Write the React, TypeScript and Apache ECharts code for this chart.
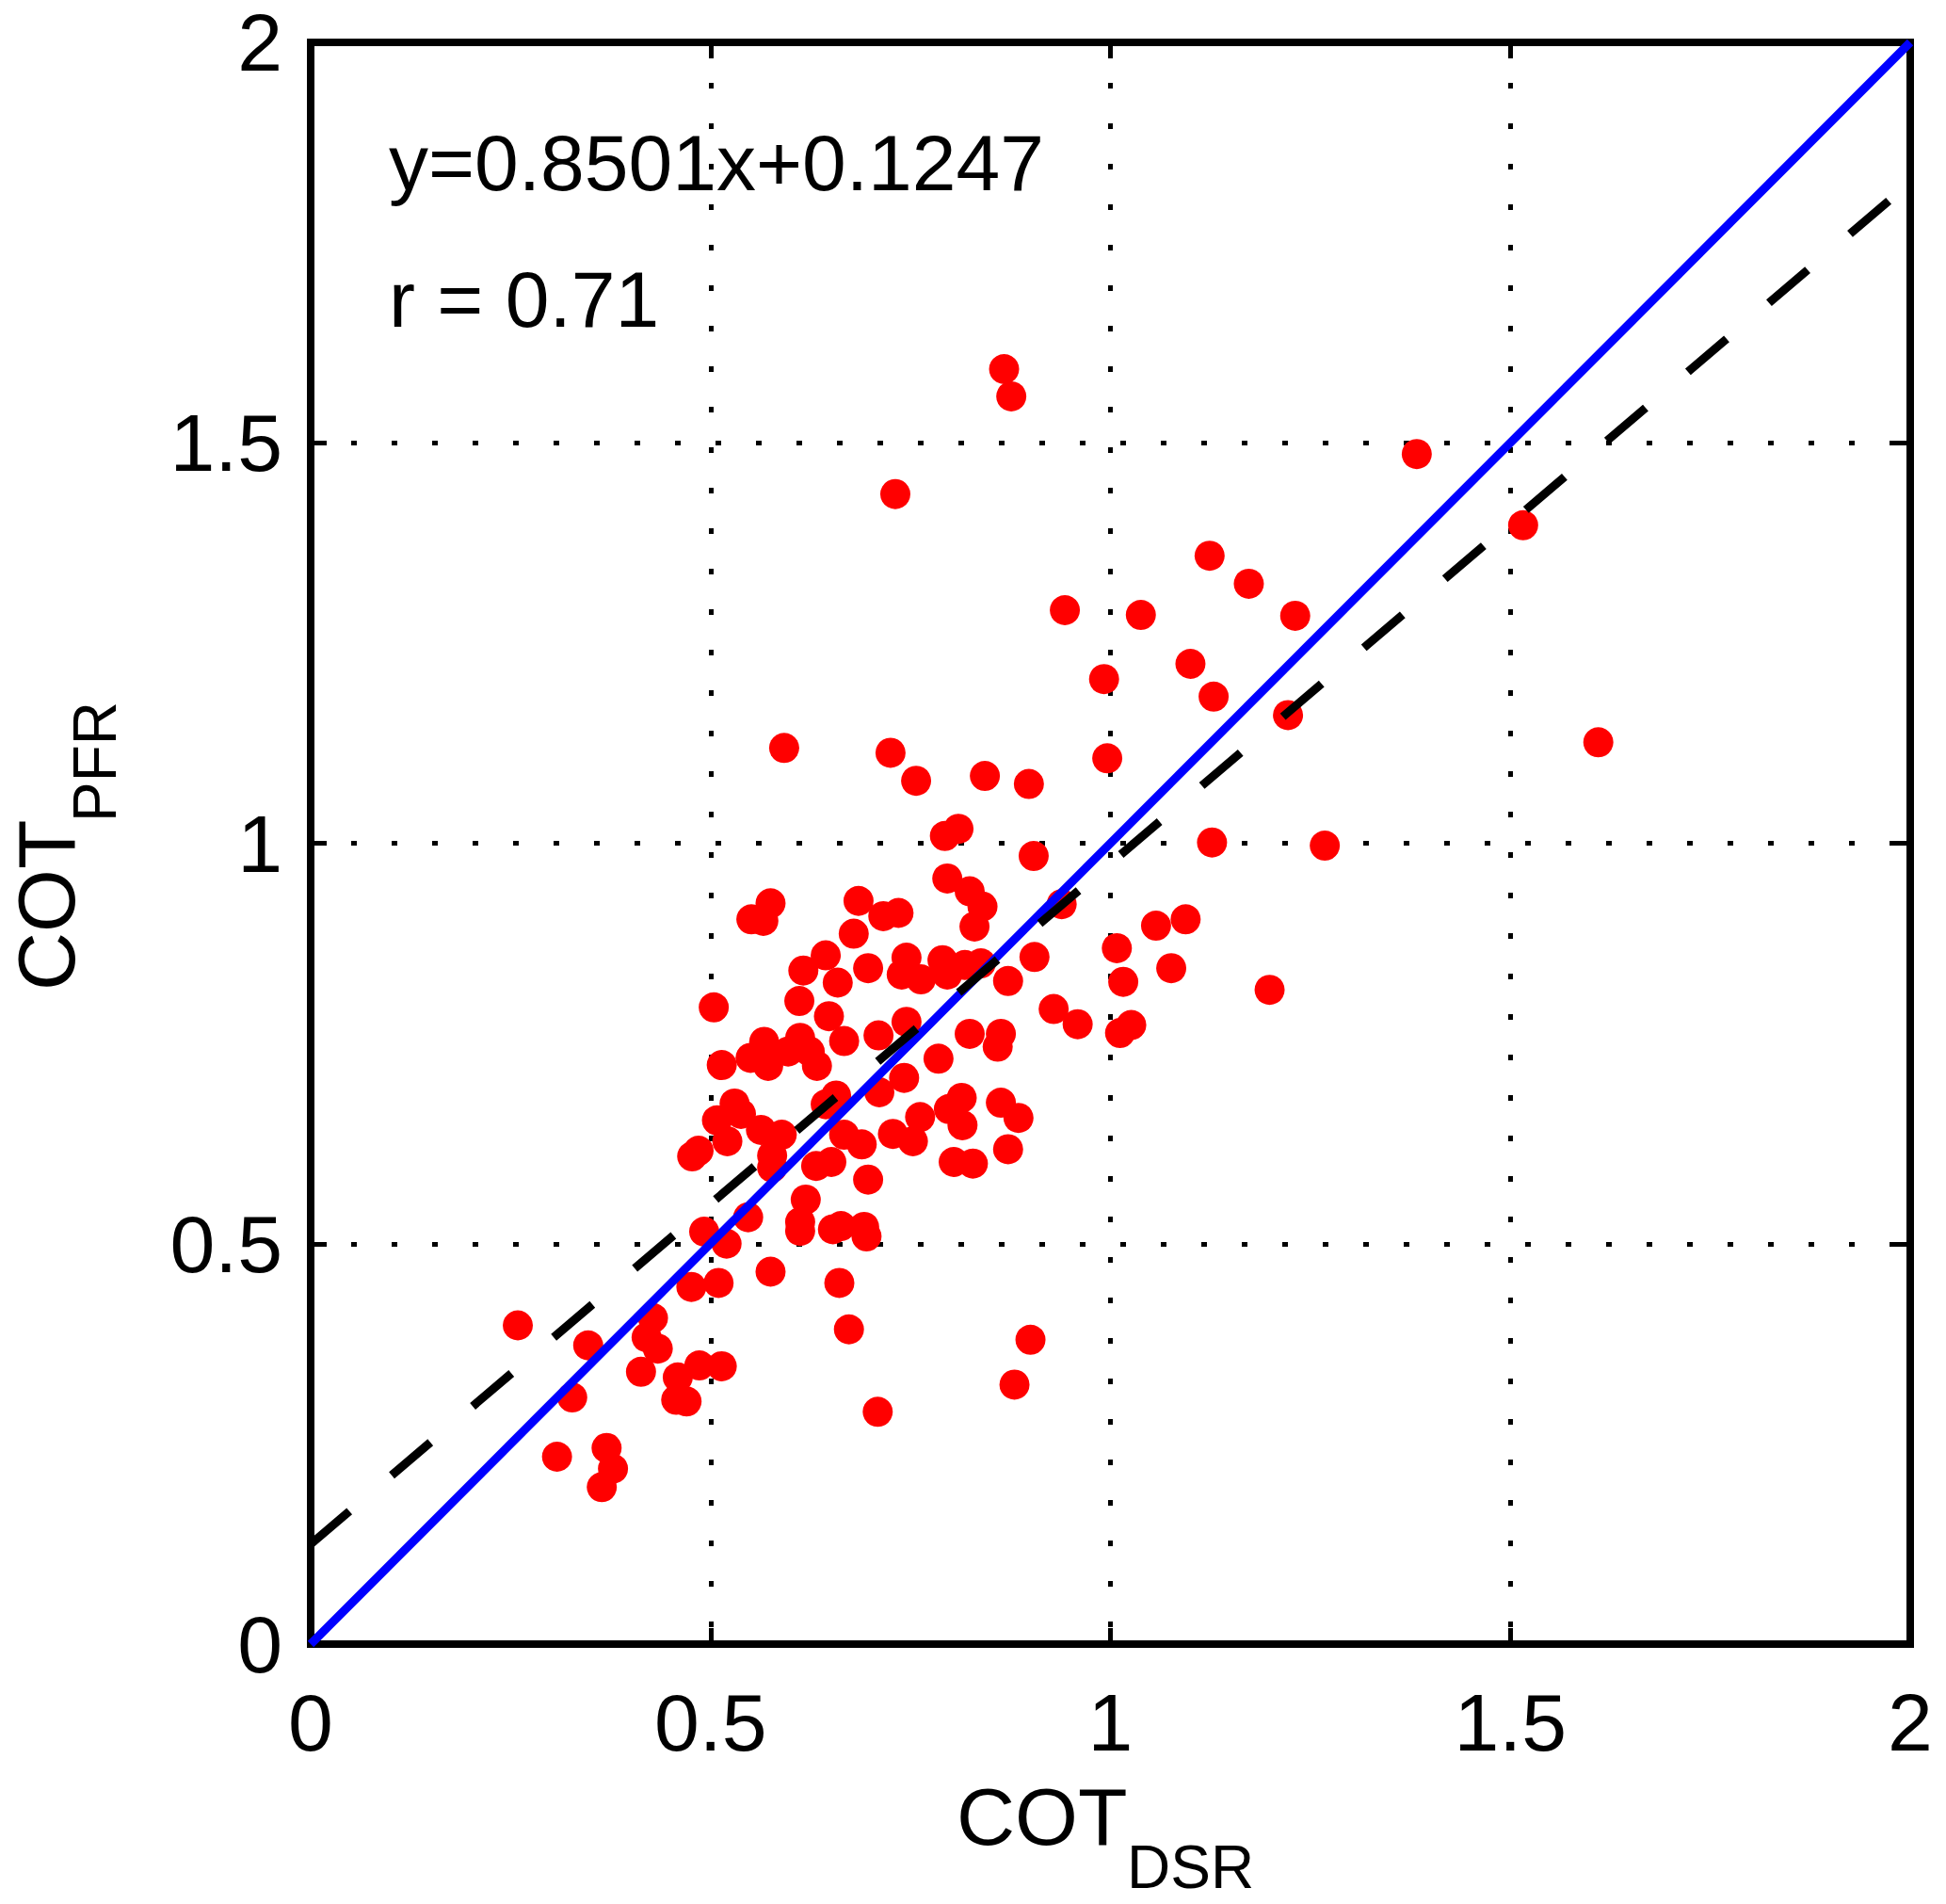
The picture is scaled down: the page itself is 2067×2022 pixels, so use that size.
import { useEffect, useRef } from "react"
import * as echarts from "echarts"

// COT_DSR vs COT_PFR pairs
const cotPoints: number[][] = [
  [0.867, 1.592], [0.876, 1.558], [1.383, 1.486], [0.731, 1.436], [1.516, 1.397],
  [1.124, 1.359], [1.173, 1.324], [0.943, 1.291], [1.038, 1.285], [1.231, 1.284],
  [1.1, 1.224], [0.992, 1.205], [1.129, 1.183], [1.222, 1.16], [1.61, 1.126],
  [0.592, 1.119], [0.725, 1.113], [0.996, 1.106], [0.757, 1.078], [0.843, 1.084],
  [0.898, 1.074], [0.81, 1.018], [0.793, 1.009], [1.127, 1.001], [1.268, 0.997],
  [0.904, 0.984], [0.796, 0.956], [0.824, 0.94], [0.84, 0.921], [0.83, 0.896],
  [0.735, 0.913], [0.716, 0.909], [0.685, 0.928], [0.575, 0.925], [0.551, 0.905],
  [0.566, 0.903], [0.679, 0.887], [0.939, 0.924], [1.094, 0.905], [1.057, 0.897],
  [1.008, 0.869], [0.644, 0.86], [0.616, 0.841], [0.659, 0.826], [0.697, 0.844],
  [0.745, 0.857], [0.739, 0.836], [0.763, 0.83], [0.79, 0.854], [0.796, 0.836],
  [0.818, 0.848], [0.838, 0.85], [0.905, 0.858], [0.872, 0.828], [1.016, 0.827],
  [1.076, 0.844], [1.199, 0.817], [0.504, 0.795], [0.611, 0.803], [0.648, 0.784],
  [0.667, 0.753], [0.71, 0.76], [0.745, 0.777], [0.929, 0.793], [0.959, 0.774],
  [1.012, 0.763], [1.026, 0.773], [0.824, 0.762], [0.863, 0.762], [0.859, 0.746],
  [0.785, 0.731], [0.742, 0.707], [0.514, 0.723], [0.55, 0.732], [0.567, 0.752],
  [0.572, 0.722], [0.597, 0.74], [0.612, 0.757], [0.624, 0.74], [0.633, 0.722],
  [0.657, 0.685], [0.644, 0.674], [0.711, 0.689], [0.53, 0.675], [0.508, 0.654],
  [0.538, 0.662], [0.521, 0.628], [0.563, 0.642], [0.589, 0.636], [0.477, 0.609],
  [0.485, 0.616], [0.577, 0.61], [0.577, 0.595], [0.632, 0.597], [0.651, 0.602],
  [0.667, 0.636], [0.689, 0.624], [0.728, 0.637], [0.753, 0.628], [0.762, 0.658],
  [0.814, 0.682], [0.798, 0.668], [0.815, 0.648], [0.863, 0.676], [0.885, 0.657],
  [0.872, 0.618], [0.804, 0.602], [0.828, 0.6], [0.697, 0.58], [0.619, 0.555],
  [0.612, 0.527], [0.612, 0.516], [0.547, 0.533], [0.492, 0.515], [0.52, 0.5],
  [0.653, 0.518], [0.663, 0.522], [0.692, 0.521], [0.695, 0.509], [0.476, 0.446],
  [0.51, 0.451], [0.575, 0.465], [0.661, 0.451], [0.259, 0.398], [0.347, 0.373],
  [0.428, 0.407], [0.42, 0.383], [0.434, 0.369], [0.413, 0.34], [0.486, 0.348],
  [0.514, 0.347], [0.459, 0.333], [0.457, 0.305], [0.47, 0.303], [0.673, 0.393],
  [0.9, 0.38], [0.327, 0.308], [0.88, 0.324], [0.709, 0.29], [0.308, 0.234],
  [0.37, 0.245], [0.378, 0.219], [0.364, 0.196],
]

// regression shown in the figure
const fitSlope = 0.8501
const fitIntercept = 0.1247
const fitR = 0.71

// axis range
const axisMin = 0
const axisMax = 2
const axisStep = 0.5

const FONT = "'Liberation Sans', Arial, Helvetica, sans-serif"

export default function App() {
  const chartRef = useRef<HTMLDivElement>(null)

  useEffect(() => {
    if (!chartRef.current) return
    const chart = echarts.init(chartRef.current, null, { renderer: "svg" })

    const oneToOne = [
      [axisMin, axisMin],
      [axisMax, axisMax],
    ]
    const fitLine = [
      [axisMin, fitSlope * axisMin + fitIntercept],
      [axisMax, fitSlope * axisMax + fitIntercept],
    ]

    const axisLine = { show: true, onZero: false, lineStyle: { color: "#000", width: 8, cap: "square" } }
    const axisTick = { show: true, inside: true, length: 17, lineStyle: { color: "#000", width: 5 } }
    const splitLine = { show: true, lineStyle: { color: "#000", width: 5, type: [6, 37] } }
    const axisLabel = { fontSize: 86, color: "#000", fontFamily: FONT }

    const option = {
      animation: false,
      backgroundColor: "#fff",
      grid: { left: 330, right: 38, top: 45, bottom: 276 },
      xAxis: [
        {
          type: "value", min: axisMin, max: axisMax, interval: axisStep, position: "bottom",
          axisLine, axisTick, splitLine, axisLabel: { ...axisLabel, margin: 40 },
        },
        {
          type: "value", min: axisMin, max: axisMax, interval: axisStep, position: "top",
          axisLine, axisTick, splitLine: { show: false }, axisLabel: { show: false },
        },
      ],
      yAxis: [
        {
          type: "value", min: axisMin, max: axisMax, interval: axisStep, position: "left",
          axisLine, axisTick, splitLine, axisLabel: { ...axisLabel, margin: 30 },
        },
        {
          type: "value", min: axisMin, max: axisMax, interval: axisStep, position: "right",
          axisLine, axisTick, splitLine: { show: false }, axisLabel: { show: false },
        },
      ],
      series: [
        {
          type: "scatter",
          data: cotPoints,
          symbol: "circle",
          symbolSize: 32,
          itemStyle: { color: "#ff0000", opacity: 1 },
          z: 2,
        },
        {
          type: "line",
          data: oneToOne,
          symbol: "none",
          lineStyle: { color: "#0000ff", width: 9 },
          z: 3,
        },
        {
          type: "line",
          data: fitLine,
          symbol: "none",
          lineStyle: { color: "#000", width: 9, type: [54, 59] },
          z: 4,
        },
      ],
      graphic: [
        {
          type: "text", x: 413, y: 173, z: 10,
          style: {
            text: `y=${fitSlope}x+${fitIntercept}`, fontSize: 84, fontFamily: FONT,
            fill: "#000", align: "left", verticalAlign: "middle",
          },
        },
        {
          type: "text", x: 413, y: 318, z: 10,
          style: {
            text: `r = ${fitR}`, fontSize: 84, fontFamily: FONT,
            fill: "#000", align: "left", verticalAlign: "middle",
          },
        },
        {
          type: "text", x: 1016, y: 1929,
          style: { text: "COT", fontSize: 86, fontFamily: FONT, fill: "#000", align: "left", verticalAlign: "middle" },
        },
        {
          type: "text", x: 1197, y: 1983,
          style: { text: "DSR", fontSize: 64, fontFamily: FONT, fill: "#000", align: "left", verticalAlign: "middle" },
        },
        {
          type: "text", x: 49, y: 1052, rotation: Math.PI / 2,
          style: { text: "COT", fontSize: 86, fontFamily: FONT, fill: "#000", align: "left", verticalAlign: "middle" },
        },
        {
          type: "text", x: 101, y: 873, rotation: Math.PI / 2,
          style: { text: "PFR", fontSize: 64, fontFamily: FONT, fill: "#000", align: "left", verticalAlign: "middle" },
        },
      ],
    }

    chart.setOption(option)

    return () => {
      chart.dispose()
    }
  }, [])

  return (
    <div
      ref={chartRef}
      style={{ position: "absolute", left: 0, top: 0, width: 2067, height: 2022 }}
    />
  )
}
